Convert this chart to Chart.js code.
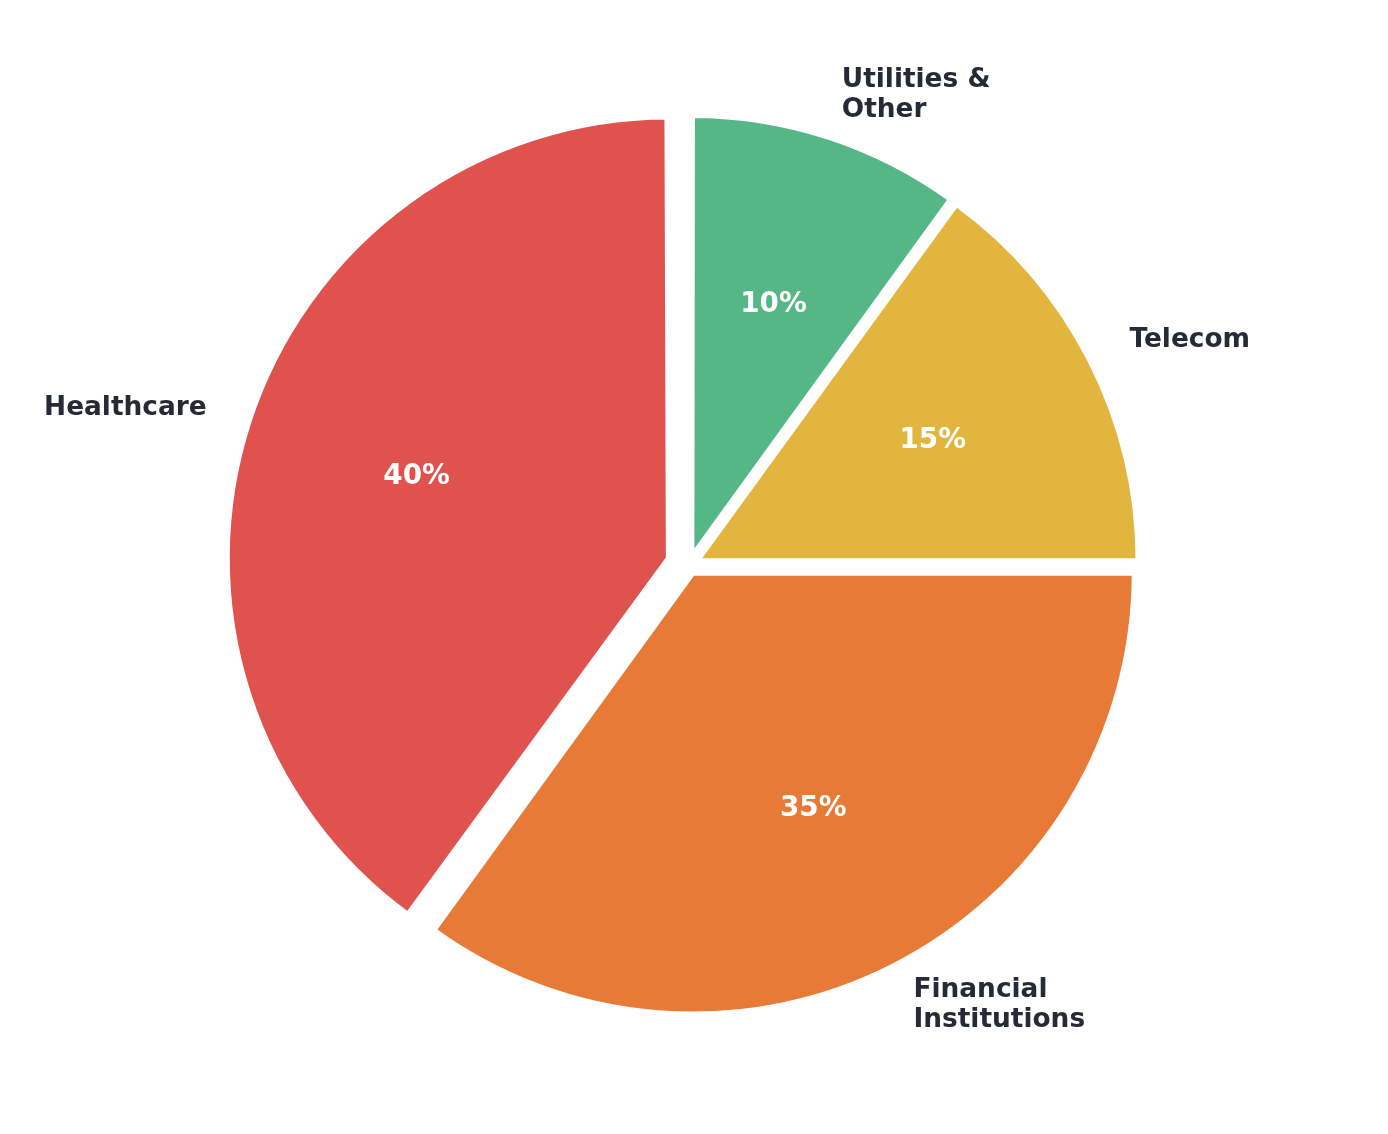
<!DOCTYPE html>
<html>
<head>
<meta charset="utf-8">
<script src="https://cdn.jsdelivr.net/npm/chart.js@4"></script>
<style>
  html, body { margin: 0; padding: 0; background: #ffffff; }
  #wrap { width: 1388px; height: 1134px; }
</style>
</head>
<body>
<div id="wrap"><canvas id="c" width="1388" height="1134"></canvas></div>
<script>
// ---- data ----
const categories = ['Utilities &\nOther', 'Telecom', 'Financial\nInstitutions', 'Healthcare'];
const shares = [10, 15, 35, 40];
const pctLabels = ['10%', '15%', '35%', '40%'];
const sliceColors = ['#55B686', '#E2B53E', '#E77A36', '#DF524E'];
const explodePx = [8.7, 8.7, 8.7, 21.5];

const RADIUS = 441.5;
const LABEL_DIST = 1.1;
const PCT_DIST = 0.6;
const LABEL_FONT = 'bold 26.4px "DejaVu Sans", sans-serif';
const PCT_FONT = 'bold 27.8px "DejaVu Sans", sans-serif';

// Chart.js draws offset/4 of translation and enlarges radius by that*fix; compensate.
const fixRadiusPlugin = {
  id: 'fixRadius',
  afterDatasetsUpdate(chart) {
    const meta = chart.getDatasetMeta(0);
    meta.data.forEach((arc, i) => {
      const o = explodePx[i];
      const circ = arc.endAngle - arc.startAngle;
      const fix = 1 - Math.sin(Math.min(Math.PI, circ));
      arc.outerRadius = RADIUS - o * fix;
    });
  }
};

const labelPlugin = {
  id: 'pieLabels',
  afterDatasetsDraw(chart) {
    const ctx = chart.ctx;
    const meta = chart.getDatasetMeta(0);
    ctx.save();
    meta.data.forEach((arc, i) => {
      const mid = (arc.startAngle + arc.endAngle) / 2;
      const o = explodePx[i];
      const cx = arc.x + Math.cos(mid) * o;
      const cy = arc.y + Math.sin(mid) * o;
      // percentage label
      ctx.font = PCT_FONT;
      ctx.fillStyle = '#ffffff';
      ctx.textAlign = 'center';
      ctx.textBaseline = 'middle';
      ctx.fillText(pctLabels[i], cx + Math.cos(mid) * PCT_DIST * RADIUS, cy + Math.sin(mid) * PCT_DIST * RADIUS);
      // category label
      ctx.font = LABEL_FONT;
      const lx = cx + Math.cos(mid) * LABEL_DIST * RADIUS;
      const ly = cy + Math.sin(mid) * LABEL_DIST * RADIUS;
      ctx.fillStyle = '#252a36';
      ctx.textAlign = Math.cos(mid) >= 0 ? 'left' : 'right';
      const lines = categories[i].split('\n');
      const lh = 30;
      const y0 = ly - (lines.length - 1) * lh / 2;
      lines.forEach((ln, k) => ctx.fillText(ln, lx, y0 + k * lh));
    });
    ctx.restore();
  }
};

new Chart(document.getElementById('c'), {
  type: 'pie',
  data: {
    labels: categories,
    datasets: [{
      data: shares,
      backgroundColor: sliceColors,
      borderColor: '#ffffff',
      borderWidth: 5.4,
      offset: explodePx.map(v => v * 4)
    }]
  },
  options: {
    responsive: false,
    animation: false,
    radius: RADIUS,
    layout: { padding: { left: 0, right: 10, top: 0, bottom: 4 } },
    plugins: {
      legend: { display: false },
      tooltip: { enabled: false }
    }
  },
  plugins: [fixRadiusPlugin, labelPlugin]
});
</script>
</body>
</html>
